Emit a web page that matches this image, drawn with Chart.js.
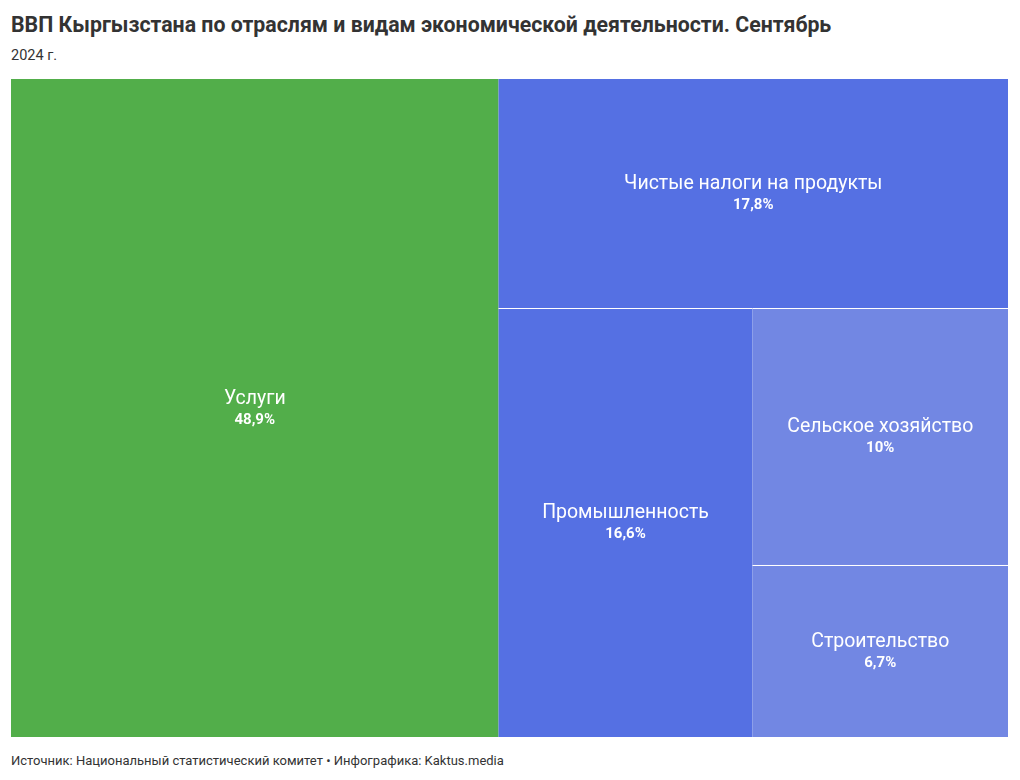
<!DOCTYPE html>
<html>
<head>
  <meta charset="utf-8">
  <title>ВВП Кыргызстана</title>
  <style>
    body {
      margin: 0;
      width: 1020px;
      height: 780px;
      background: #fff;
      font-family: Roboto, "Noto Sans", sans-serif;
      color: #333;
      position: relative;
    }
    #title {
      position: absolute;
      left: 11px;
      top: 12px;
      font-size: 21.3px;
      font-weight: bold;
      color: #333;
      white-space: nowrap;
    }
    #subtitle {
      position: absolute;
      left: 11px;
      top: 47px;
      font-size: 14.5px;
      color: #333;
    }
    #wrap {
      position: absolute;
      left: 11px;
      top: 79px;
      width: 997px;
      height: 658px;
    }
    #footer {
      position: absolute;
      left: 11px;
      top: 753px;
      font-size: 13px;
      color: #333;
      white-space: nowrap;
    }
  </style>
</head>
<body>
  <div id="title">ВВП Кыргызстана по отраслям и видам экономической деятельности. Сентябрь</div>
  <div id="subtitle">2024 г.</div>
  <div id="wrap"><canvas id="chart" width="997" height="658"></canvas></div>
  <div id="footer">Источник: Национальный статистический комитет • Инфографика: Kaktus.media</div>

  <script src="https://cdn.jsdelivr.net/npm/chart.js"></script>
  <script>
    // Данные (доли ВВП, %)
    const sectors = ['Услуги', 'Чистые налоги на продукты', 'Промышленность', 'Сельское хозяйство', 'Строительство'];
    const shares = [48.9, 17.8, 16.6, 10, 6.7];
    const colors = ['#52ae4a', '#5570e3', '#5570e3', '#7287e3', '#7287e3'];

    // Раскладка: каждая ячейка отрезает полосу от остатка, направление чередуется
    function sliceLayout(values) {
      let x0 = 0, y0 = 0, x1 = 100, y1 = 100;
      let rest = values.reduce((a, b) => a + b, 0);
      const cells = [];
      values.forEach((v, i) => {
        const f = v / rest;
        if (i === values.length - 1) {
          cells.push({ x0, y0, x1, y1 });
        } else if (i % 2 === 0) {
          const xm = x0 + (x1 - x0) * f;
          cells.push({ x0, y0, x1: xm, y1 });
          x0 = xm;
        } else {
          const ym = y1 - (y1 - y0) * f;
          cells.push({ x0, y0: ym, x1, y1 });
          y1 = ym;
        }
        rest -= v;
      });
      return cells;
    }

    const cells = sliceLayout(shares);

    const fmt = v => String(v).replace('.', ',') + '%';

    // Плагин для рисования прямоугольников через шкалы графика
    const treemapPlugin = {
      id: 'treemap',
      beforeDatasetsDraw(chart) {
        const ctx = chart.ctx;
        const xs = chart.scales.x, ys = chart.scales.y;
        ctx.save();
        cells.forEach((c, i) => {
          const left = xs.getPixelForValue(c.x0);
          const right = xs.getPixelForValue(c.x1);
          const top = ys.getPixelForValue(c.y1);
          const bottom = ys.getPixelForValue(c.y0);
          ctx.fillStyle = colors[i];
          ctx.fillRect(left, top, right - left, bottom - top);
          // белые разделители только внутри области
          ctx.strokeStyle = '#ffffff';
          ctx.lineWidth = 1;
          ctx.beginPath();
          if (right < chart.chartArea.right - 1) {
            ctx.moveTo(Math.round(right) + 0.5, top);
            ctx.lineTo(Math.round(right) + 0.5, bottom);
          }
          if (top > chart.chartArea.top + 1) {
            ctx.moveTo(left, Math.round(top) + 0.5);
            ctx.lineTo(right, Math.round(top) + 0.5);
          }
          ctx.stroke();
        });
        ctx.restore();
      },
      afterDatasetsDraw(chart) {
        const ctx = chart.ctx;
        const meta = chart.getDatasetMeta(0);
        ctx.save();
        ctx.fillStyle = '#ffffff';
        ctx.textAlign = 'center';
        ctx.textBaseline = 'middle';
        meta.data.forEach((pt, i) => {
          ctx.font = '19.5px Roboto, "Noto Sans", sans-serif';
          ctx.fillText(sectors[i], pt.x, pt.y - 9);
          ctx.font = 'bold 15px Roboto, "Noto Sans", sans-serif';
          ctx.fillText(fmt(shares[i]), pt.x, pt.y + 12);
        });
        ctx.restore();
      }
    };

    new Chart(document.getElementById('chart'), {
      type: 'scatter',
      data: {
        labels: sectors,
        datasets: [{
          data: cells.map(c => ({ x: (c.x0 + c.x1) / 2, y: (c.y0 + c.y1) / 2 })),
          pointRadius: 0,
          pointHoverRadius: 0
        }]
      },
      options: {
        responsive: false,
        animation: false,
        layout: { padding: 0 },
        plugins: {
          legend: { display: false },
          tooltip: { enabled: false }
        },
        scales: {
          x: { type: 'linear', min: 0, max: 100, display: false },
          y: { type: 'linear', min: 0, max: 100, display: false }
        }
      },
      plugins: [treemapPlugin]
    });
  </script>
</body>
</html>
